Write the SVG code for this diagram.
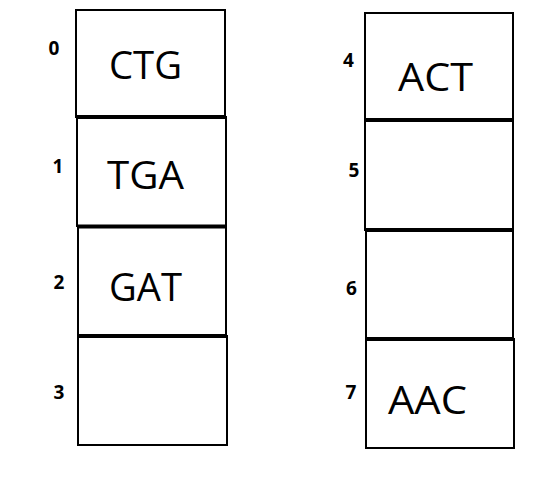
<svg xmlns="http://www.w3.org/2000/svg" width="558" height="478" viewBox="0 0 558 478">
<style>
.cell{fill:#fff;stroke:#000;stroke-width:2}
.sep{stroke:#000;stroke-width:4}
.lbl{font-family:"Open Sans","Liberation Sans",sans-serif;font-size:39px;fill:#000}
.idx{font-family:"Open Sans","Liberation Sans",sans-serif;font-size:19px;font-weight:bold;fill:#000;text-anchor:middle}
</style>
<rect width="558" height="478" fill="#fff"/>
<g id="cell0"><rect class="cell" x="76" y="10" width="149" height="107"/><text class="lbl" x="109" y="79" textLength="73" lengthAdjust="spacingAndGlyphs">CTG</text><text class="idx" x="54" y="55">0</text></g>
<g id="cell1"><rect class="cell" x="77" y="117" width="149" height="109"/><text class="lbl" x="107" y="189" textLength="77" lengthAdjust="spacingAndGlyphs">TGA</text><text class="idx" x="58" y="173">1</text></g>
<g id="cell2"><rect class="cell" x="78" y="227" width="148" height="109"/><text class="lbl" x="109" y="301" textLength="73" lengthAdjust="spacingAndGlyphs">GAT</text><text class="idx" x="59" y="289">2</text></g>
<g id="cell3"><rect class="cell" x="78" y="336" width="149" height="109"/><text class="idx" x="59" y="399">3</text></g>
<g id="cell4"><rect class="cell" x="365" y="13" width="148" height="107"/><text class="lbl" x="398" y="91" textLength="75" lengthAdjust="spacingAndGlyphs">ACT</text><text class="idx" x="348.5" y="67">4</text></g>
<g id="cell5"><rect class="cell" x="365" y="120" width="148" height="110"/><text class="idx" x="354" y="177">5</text></g>
<g id="cell6"><rect class="cell" x="366" y="230" width="147" height="109"/><text class="idx" x="351.5" y="295">6</text></g>
<g id="cell7"><rect class="cell" x="366" y="339" width="148" height="109"/><text class="lbl" x="388" y="414" textLength="79" lengthAdjust="spacingAndGlyphs">AAC</text><text class="idx" x="351" y="399">7</text></g>
<g id="separators">
<line class="sep" x1="76" y1="117" x2="226" y2="117"/>
<line class="sep" x1="77" y1="226.5" x2="226" y2="226.5"/>
<line class="sep" x1="78" y1="336" x2="227" y2="336"/>
<line class="sep" x1="365" y1="120" x2="513" y2="120"/>
<line class="sep" x1="365" y1="230" x2="513" y2="230"/>
<line class="sep" x1="366" y1="339" x2="514" y2="339"/>
</g>
</svg>
